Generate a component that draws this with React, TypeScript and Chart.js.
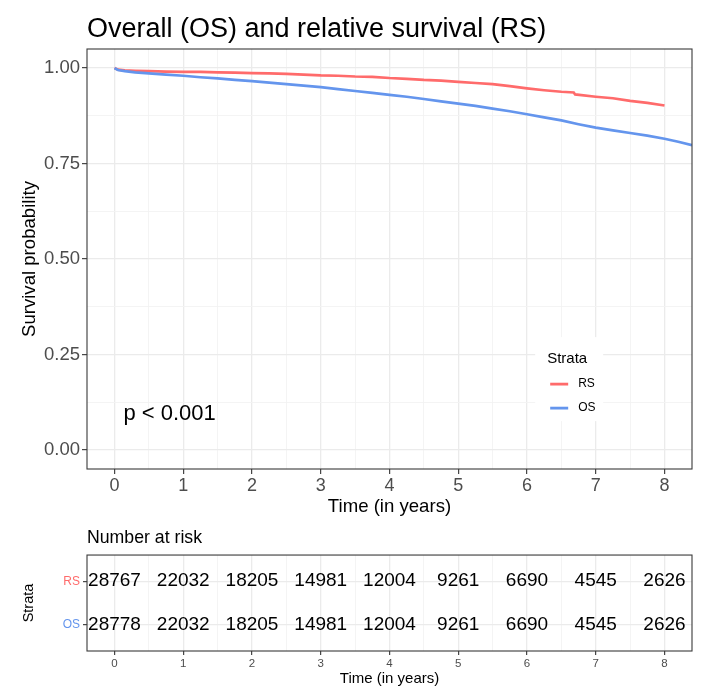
import React, { useEffect, useRef } from "react";
import { Chart, registerables } from "chart.js";

Chart.register(...registerables);

const FONT = "'Liberation Sans', Arial, Helvetica, sans-serif";

// ---- data ----
const titleText = "Overall (OS) and relative survival (RS)";
const strataLabels = ["RS", "OS"];
const strataColors = ["#FF6B6B", "#6495ED"];

const rsTimes = [0, 0.05, 0.15, 0.3, 0.5, 0.75, 1, 1.25, 1.5, 1.75, 2, 2.25, 2.5, 2.75, 3, 3.25, 3.5, 3.75, 4, 4.25, 4.5, 4.75, 5, 5.25, 5.5, 5.75, 6, 6.25, 6.5, 6.68, 6.7, 7, 7.25, 7.5, 7.75, 8];
const rsSurv = [1.0, 0.996, 0.994, 0.993, 0.992, 0.991, 0.99, 0.99, 0.989, 0.988, 0.987, 0.986, 0.985, 0.983, 0.981, 0.98, 0.978, 0.977, 0.974, 0.972, 0.969, 0.967, 0.964, 0.961, 0.958, 0.953, 0.947, 0.942, 0.938, 0.936, 0.931, 0.925, 0.921, 0.914, 0.909, 0.902];

const osTimes = [0, 0.05, 0.15, 0.3, 0.5, 0.75, 1, 1.25, 1.5, 1.75, 2, 2.25, 2.5, 2.75, 3, 3.25, 3.5, 3.75, 4, 4.25, 4.5, 4.75, 5, 5.25, 5.5, 5.75, 6, 6.25, 6.5, 6.75, 7, 7.25, 7.5, 7.75, 8, 8.2, 8.4];
const osSurv = [1.0, 0.995, 0.992, 0.989, 0.986, 0.983, 0.98, 0.976, 0.973, 0.969, 0.966, 0.962, 0.958, 0.954, 0.95, 0.945, 0.94, 0.935, 0.93, 0.925, 0.919, 0.913, 0.907, 0.901, 0.894, 0.887, 0.879, 0.871, 0.863, 0.853, 0.844, 0.837, 0.83, 0.823, 0.815, 0.807, 0.798];

const xTicks = [0, 1, 2, 3, 4, 5, 6, 7, 8];
const yTicks = [0, 0.25, 0.5, 0.75, 1];

const riskTimes = [0, 1, 2, 3, 4, 5, 6, 7, 8];
const rsAtRisk = [28767, 22032, 18205, 14981, 12004, 9261, 6690, 4545, 2626];
const osAtRisk = [28778, 22032, 18205, 14981, 12004, 9261, 6690, 4545, 2626];

const pValueText = "p < 0.001";
const pValueAt = { x: 0.13, y: 0.094 };

// ---- helpers ----
const MAJOR_GRID = "#EBEBEB";
const MINOR_GRID = "#F3F3F3";
const TICK_TEXT = "#4D4D4D";
const BORDER = "#3a3a3a";

function withMinor(majors: number[]) {
  const out: any[] = [];
  majors.forEach((v, i) => {
    out.push({ value: v, minor: false });
    if (i < majors.length - 1) out.push({ value: (v + majors[i + 1]) / 2, minor: true });
  });
  return out;
}

const gridOpts = (tickLen: number) => ({
  color: (c: any) => (c.tick && c.tick.minor ? MINOR_GRID : MAJOR_GRID),
  lineWidth: (c: any) => (c.tick && c.tick.minor ? 0.9 : 1.3),
  tickColor: (c: any) => (c.tick && c.tick.minor ? "rgba(0,0,0,0)" : "#333333"),
  tickWidth: 1.1,
  tickLength: tickLen,
  drawTicks: true,
});

const borderPlugin = {
  id: "panelBorder",
  afterDatasetsDraw(chart: any) {
    const { ctx, chartArea: a } = chart;
    ctx.save();
    ctx.strokeStyle = BORDER;
    ctx.lineWidth = 1.1;
    ctx.strokeRect(a.left, a.top, a.right - a.left, a.bottom - a.top);
    ctx.restore();
  },
};

const survExtras = {
  id: "survExtras",
  afterDraw(chart: any) {
    const { ctx, chartArea: a, scales } = chart;
    ctx.save();
    // p-value
    ctx.fillStyle = "#000";
    ctx.font = `22px ${FONT}`;
    ctx.textAlign = "left";
    ctx.textBaseline = "middle";
    ctx.fillText(pValueText, scales.x.getPixelForValue(pValueAt.x), scales.y.getPixelForValue(pValueAt.y));
    // legend
    const cx = a.left + (a.right - a.left) * 0.797;
    const cy = a.bottom - (a.bottom - a.top) * 0.214;
    ctx.fillStyle = "#fff";
    ctx.fillRect(cx - 34, cy - 42, 68, 84);
    ctx.fillStyle = "#000";
    ctx.font = `15px ${FONT}`;
    ctx.fillText("Strata", cx - 22, cy - 20);
    chart.data.datasets.forEach((ds: any, i: number) => {
      const y = cy + 5 + i * 24;
      ctx.strokeStyle = ds.borderColor;
      ctx.lineWidth = 2.8;
      ctx.beginPath();
      ctx.moveTo(cx - 19, y);
      ctx.lineTo(cx - 1, y);
      ctx.stroke();
      ctx.fillStyle = "#000";
      ctx.font = `12px ${FONT}`;
      ctx.fillText(ds.label, cx + 9, y);
    });
    ctx.restore();
  },
};

const riskText = {
  id: "riskText",
  afterDatasetsDraw(chart: any) {
    const { ctx } = chart;
    ctx.save();
    ctx.fillStyle = "#000";
    ctx.font = `19px ${FONT}`;
    ctx.textAlign = "center";
    ctx.textBaseline = "middle";
    chart.data.datasets.forEach((ds: any, i: number) => {
      const meta = chart.getDatasetMeta(i);
      meta.data.forEach((pt: any, j: number) => {
        ctx.fillText(String(ds.counts[j]), pt.x, pt.y);
      });
    });
    ctx.restore();
  },
};

export default function App() {
  const mainRef = useRef<HTMLCanvasElement>(null);
  const riskRef = useRef<HTMLCanvasElement>(null);

  useEffect(() => {
    const mainChart = new Chart(mainRef.current as HTMLCanvasElement, {
      type: "line",
      data: {
        datasets: [
          {
            label: strataLabels[0],
            data: rsTimes.map((t, i) => ({ x: t, y: rsSurv[i] })),
            borderColor: strataColors[0],
            backgroundColor: strataColors[0],
            borderWidth: 2.7,
            pointRadius: 0,
            tension: 0,
            order: 1,
          },
          {
            label: strataLabels[1],
            data: osTimes.map((t, i) => ({ x: t, y: osSurv[i] })),
            borderColor: strataColors[1],
            backgroundColor: strataColors[1],
            borderWidth: 2.7,
            pointRadius: 0,
            tension: 0,
            order: 0,
          },
        ],
      },
      options: {
        animation: false,
        responsive: false,
        devicePixelRatio: 1,
        layout: { padding: { left: 0, right: 10, top: 0, bottom: 0 } },
        plugins: {
          legend: { display: false },
          tooltip: { enabled: false },
          title: {
            display: true,
            text: titleText,
            align: "start",
            fullSize: false,
            color: "#000",
            font: { family: FONT, size: 27, weight: "normal" },
            padding: { top: 13, bottom: 3.6 },
          },
        },
        scales: {
          x: {
            type: "linear",
            min: -0.4,
            max: 8.4,
            afterBuildTicks: (s: any) => {
              s.ticks = withMinor(xTicks);
            },
            afterFit: (s: any) => {
              s.height = 51;
            },
            ticks: {
              autoSkip: false,
              maxRotation: 0,
              color: TICK_TEXT,
              font: { family: FONT, size: 18 },
              padding: 1,
              callback: (v: any) => (xTicks.includes(v) ? String(v) : ""),
            },
            grid: gridOpts(5),
            border: { display: false },
            title: {
              display: true,
              text: "Time (in years)",
              color: "#000",
              font: { family: FONT, size: 18.6 },
              padding: { top: 0, bottom: 2 },
            },
          },
          y: {
            type: "linear",
            min: -0.05,
            max: 1.05,
            afterBuildTicks: (s: any) => {
              s.ticks = withMinor(yTicks);
            },
            afterFit: (s: any) => {
              s.width = 87;
            },
            ticks: {
              autoSkip: false,
              color: TICK_TEXT,
              font: { family: FONT, size: 18.5 },
              padding: 2,
              callback: (v: any) => (yTicks.includes(v) ? Number(v).toFixed(2) : ""),
            },
            grid: gridOpts(5),
            border: { display: false },
            title: {
              display: true,
              text: "Survival probability",
              color: "#000",
              font: { family: FONT, size: 18.6 },
              padding: { top: 19, bottom: 0 },
            },
          },
        },
      } as any,
      plugins: [borderPlugin, survExtras],
    });

    const rowOf = (i: number) => strataLabels.length - i;
    const riskChart = new Chart(riskRef.current as HTMLCanvasElement, {
      type: "scatter",
      data: {
        datasets: [
          {
            label: strataLabels[0],
            data: riskTimes.map((t) => ({ x: t, y: rowOf(0) })),
            counts: rsAtRisk,
            pointRadius: 0,
            showLine: false,
          } as any,
          {
            label: strataLabels[1],
            data: riskTimes.map((t) => ({ x: t, y: rowOf(1) })),
            counts: osAtRisk,
            pointRadius: 0,
            showLine: false,
          } as any,
        ],
      },
      options: {
        animation: false,
        responsive: false,
        devicePixelRatio: 1,
        layout: { padding: { left: 0, right: 10, top: 0, bottom: 0 } },
        plugins: {
          legend: { display: false },
          tooltip: { enabled: false },
          title: {
            display: true,
            text: "Number at risk",
            align: "start",
            fullSize: false,
            color: "#000",
            font: { family: FONT, size: 17.7, weight: "normal" },
            padding: { top: 7.4, bottom: 6.4 },
          },
        },
        scales: {
          x: {
            type: "linear",
            min: -0.4,
            max: 8.4,
            afterBuildTicks: (s: any) => {
              s.ticks = withMinor(riskTimes);
            },
            afterFit: (s: any) => {
              s.height = 37;
            },
            ticks: {
              autoSkip: false,
              maxRotation: 0,
              color: TICK_TEXT,
              font: { family: FONT, size: 11.5 },
              padding: 2,
              callback: (v: any) => (riskTimes.includes(v) ? String(v) : ""),
            },
            grid: gridOpts(4),
            border: { display: false },
            title: {
              display: true,
              text: "Time (in years)",
              color: "#000",
              font: { family: FONT, size: 15 },
              padding: { top: 0, bottom: 0 },
            },
          },
          y: {
            type: "linear",
            min: 0.4,
            max: strataLabels.length + 0.6,
            afterBuildTicks: (s: any) => {
              s.ticks = strataLabels.map((_, i) => ({ value: rowOf(i), minor: false }));
            },
            afterFit: (s: any) => {
              s.width = 87;
            },
            ticks: {
              autoSkip: false,
              color: (c: any) => strataColors[strataLabels.length - c.tick.value],
              font: { family: FONT, size: 12 },
              padding: 3,
              callback: (v: any) => strataLabels[strataLabels.length - v],
            },
            grid: gridOpts(4),
            border: { display: false },
            title: {
              display: true,
              text: "Strata",
              color: "#000",
              font: { family: FONT, size: 14.5 },
              padding: { top: 20, bottom: 0 },
            },
          },
        },
      } as any,
      plugins: [borderPlugin, riskText],
    });

    return () => {
      mainChart.destroy();
      riskChart.destroy();
    };
  }, []);

  return (
    <div style={{ position: "absolute", left: 0, top: 0, width: 702, height: 688, background: "#fff" }}>
      <canvas ref={mainRef} width={702} height={520} style={{ display: "block" }} />
      <canvas ref={riskRef} width={702} height={168} style={{ display: "block" }} />
    </div>
  );
}
